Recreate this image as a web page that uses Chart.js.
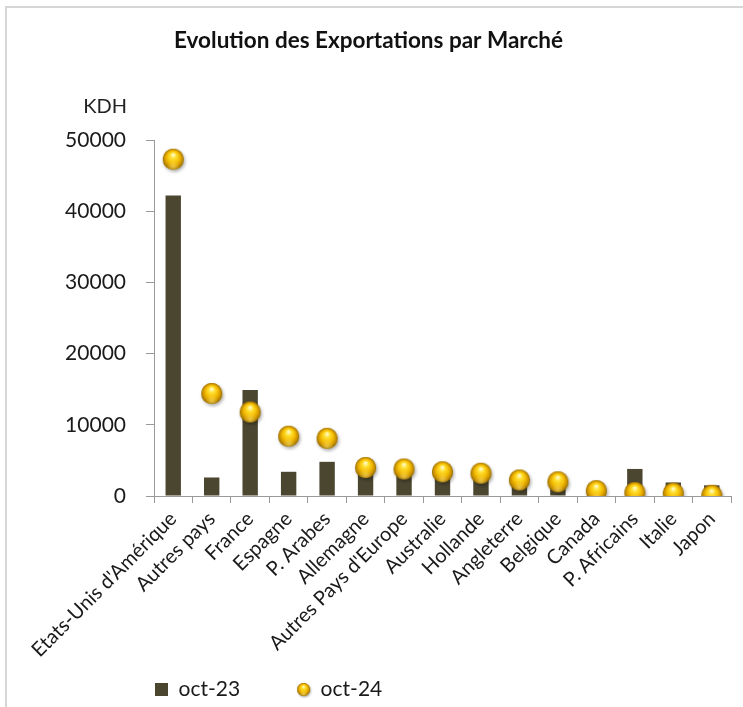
<!DOCTYPE html>
<html>
<head>
<meta charset="utf-8">
<script src="https://cdn.jsdelivr.net/npm/chart.js@4.4.1/dist/chart.umd.min.js"></script>
<style>
  body { margin: 0; background: #fff; }
  #wrap { position: relative; width: 743px; height: 707px; overflow: hidden; }
  #frame { position: absolute; left: 5px; top: 6px; width: 800px; height: 800px;
           border-top: 2px solid #d6d6d6; border-left: 2px solid #d6d6d6; }
  canvas { position: absolute; left: 0; top: 0; }
</style>
</head>
<body>
<div id="wrap">
  <div id="frame"></div>
  <canvas id="exportChart" width="743" height="707"></canvas>
</div>
<script>
const marches = ["Etats-Unis d'Amérique", 'Autres pays', 'France', 'Espagne', 'P. Arabes',
  'Allemagne', "Autres Pays d'Europe", 'Australie', 'Hollande', 'Angleterre', 'Belgique',
  'Canada', 'P. Africains', 'Italie', 'Japon'];
const oct23 = [42200, 2600, 14900, 3400, 4800, 3300, 3000, 2800, 2600, 1400, 1300, 300, 3800, 1900, 1500];
const oct24 = [47300, 14400, 11800, 8400, 8100, 4000, 3800, 3400, 3200, 2250, 2000, 750, 500, 400, 100];
const yTicks = [0, 10000, 20000, 30000, 40000, 50000];

const FONT = "Lato, 'Open Sans', sans-serif";

// petite bille dorée dessinée une fois, utilisée comme pointStyle
function makeBall(r) {
  const size = Math.ceil(r * 2 + 8);
  const c = document.createElement('canvas');
  c.width = size; c.height = size;
  const g = c.getContext('2d');
  const cx = size / 2, cy = size / 2;
  g.save();
  g.shadowColor = 'rgba(0,0,0,0.35)';
  g.shadowBlur = r * 0.35;
  g.shadowOffsetX = r * 0.12;
  g.shadowOffsetY = r * 0.18;
  g.beginPath();
  g.arc(cx, cy, r, 0, Math.PI * 2);
  g.fillStyle = '#c99400';
  g.fill();
  g.restore();
  const grad = g.createRadialGradient(cx, cy - r * 0.45, r * 0.05, cx, cy, r);
  grad.addColorStop(0, '#fffbd0');
  grad.addColorStop(0.25, '#ffe030');
  grad.addColorStop(0.6, '#f2b800');
  grad.addColorStop(0.88, '#c08a00');
  grad.addColorStop(1, '#8a6400');
  g.beginPath();
  g.arc(cx, cy, r, 0, Math.PI * 2);
  g.fillStyle = grad;
  g.fill();
  // reflet bas
  const rim = g.createRadialGradient(cx, cy + r * 0.7, 0, cx, cy + r * 0.7, r * 0.6);
  rim.addColorStop(0, 'rgba(255,230,120,0.55)');
  rim.addColorStop(1, 'rgba(255,230,120,0)');
  g.beginPath();
  g.arc(cx, cy, r, 0, Math.PI * 2);
  g.fillStyle = rim;
  g.fill();
  return c;
}

const ballBig = makeBall(10.5);
const ballSmall = makeBall(6.5);

// légende décalée à gauche et sous les étiquettes, comme dans l'original
const legendShift = {
  id: 'legendShift',
  afterLayout(chart) {
    chart.legend.left = 98;
    chart.legend.top = 622;
  }
};

// unité au-dessus de l'axe
const unitLabel = {
  id: 'unitLabel',
  afterDraw(chart) {
    const ctx = chart.ctx;
    ctx.save();
    ctx.font = '20px ' + FONT;
    ctx.fillStyle = '#222';
    ctx.textAlign = 'right';
    ctx.textBaseline = 'middle';
    ctx.fillText('KDH', 127, 107);
    ctx.restore();
  }
};

new Chart(document.getElementById('exportChart'), {
  type: 'bar',
  data: {
    labels: marches,
    datasets: [
      {
        type: 'bar',
        label: 'oct-23',
        data: oct23,
        backgroundColor: '#4b4630',
        borderWidth: 0,
        barPercentage: 0.4,
        categoryPercentage: 1,
        pointStyle: 'rect',
        order: 1
      },
      {
        type: 'line',
        label: 'oct-24',
        data: oct24,
        showLine: false,
        pointStyle: ballBig,
        pointRadius: 11,
        pointHoverRadius: 11,
        backgroundColor: '#f0b800',
        borderColor: '#f0b800',
        order: 0
      }
    ]
  },
  options: {
    responsive: false,
    animation: false,
    layout: { padding: { left: 0, right: 6, top: 0, bottom: 0 } },
    scales: {
      x: {
        grid: { drawOnChartArea: false, color: '#9a9a9a', tickLength: 7 },
        border: { color: '#9a9a9a' },
        ticks: {
          color: '#1a1a1a',
          font: { family: FONT, size: 20 },
          minRotation: 45,
          maxRotation: 45,
          autoSkip: false,
          padding: 4
        },
        afterFit: (s) => { s.height = 180; }
      },
      y: {
        min: 0,
        max: 50000,
        afterBuildTicks: (s) => { s.ticks = yTicks.map(v => ({ value: v })); },
        grid: { drawOnChartArea: false, color: '#9a9a9a', tickLength: 8 },
        border: { color: '#9a9a9a' },
        ticks: {
          color: '#1a1a1a',
          font: { family: FONT, size: 21 },
          padding: 20,
          callback: (v) => String(v)
        },
        afterFit: (s) => { s.width = 154; }
      }
    },
    plugins: {
      title: {
        display: true,
        text: 'Evolution des Exportations par Marché',
        color: '#111',
        font: { family: FONT, size: 22.5, weight: 'bold' },
        padding: { top: 27, bottom: 86 }
      },
      legend: {
        position: 'bottom',
        align: 'start',
        maxHeight: 31,
        labels: {
          usePointStyle: true,
          boxWidth: 13,
          boxHeight: 13,
          padding: 57,
          color: '#1a1a1a',
          font: { family: FONT, size: 21 },
          sort: (a, b) => a.datasetIndex - b.datasetIndex,
          generateLabels: (chart) => {
            const items = Chart.defaults.plugins.legend.labels.generateLabels(chart);
            return items.map(it => {
              if (it.datasetIndex === 1) {
                it.pointStyle = ballSmall;
              } else {
                it.pointStyle = 'rect';
                it.fillStyle = '#4b4630';
                it.lineWidth = 0;
              }
              return it;
            });
          }
        }
      },
      tooltip: { enabled: false }
    }
  },
  plugins: [legendShift, unitLabel]
});
</script>
</body>
</html>
